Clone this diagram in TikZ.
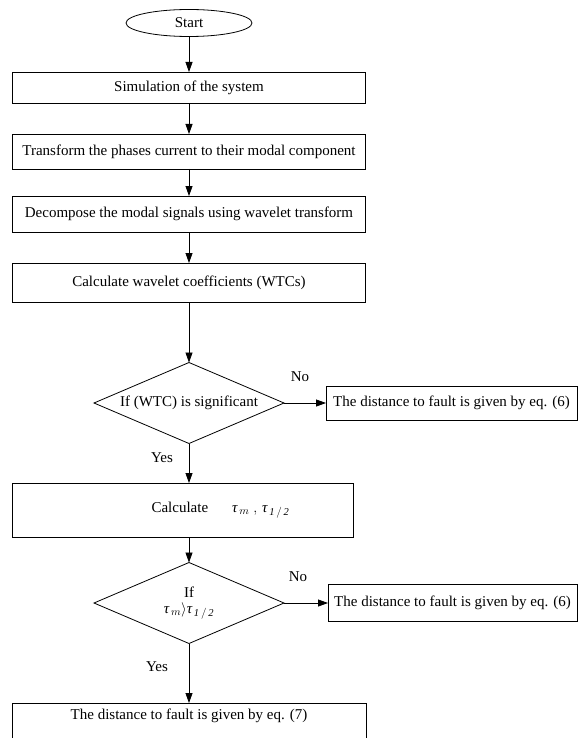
\documentclass[tikz,border=0pt]{standalone}
\usepackage{fontspec}
\setmainfont{Liberation Serif}
\usetikzlibrary{arrows.meta,shapes.geometric}
\newcommand{\mytau}{\textit{τ}}
\begin{document}
\begin{tikzpicture}[x=1pt,y=-1pt,
  font=\fontsize{15}{18}\selectfont,
  every node/.style={inner sep=0pt, outer sep=0pt},
  box/.style={draw, line width=0.8pt, rectangle},
  dec/.style={draw, line width=0.8pt, diamond, shape aspect=2.375, minimum width=190, minimum height=81, align=center},
  arr/.style={-{Triangle[length=10pt,width=7pt]}, line width=0.8pt}]
\useasboundingbox (0,0) rectangle (578,738);
\node[draw, ellipse, line width=0.8pt, minimum width=126, minimum height=27] (start) at (189,23) {Start};
\node[box, minimum width=353, minimum height=31] (b1) at (189,87.5) {Simulation of the system};
\node[box, minimum width=353, minimum height=35] (b2) at (189,151.5) {Transform the phases current to their modal component};
\node[box, minimum width=353, minimum height=36] (b3) at (189,214) {Decompose the modal signals using wavelet transform};
\node[box, minimum width=353, minimum height=39] (b4) at (189,282.5) {Calculate wavelet coefficients (WTCs)};
\node[dec] (d1) at (189,403) {If (WTC) is significant};
\node[box, minimum width=251, minimum height=34] (r1) at (451.5,403) {The distance to fault is given by eq. (6)};
\node[box, minimum width=341, minimum height=54] (b5) at (182.5,510) {\hspace*{76pt}Calculate\hspace{24pt}$\mytau_{\,m}\;,\,\mytau_{\,\mathit{1\,/\,2}}$};
\node[dec] (d2) at (189,603) {If\\[-2pt]$\mytau_{\,m}\rangle\mytau_{\,\mathit{1\,/\,2}}$};
\node[box, minimum width=249, minimum height=37] (r2) at (452.5,603) {The distance to fault is given by eq. (6)};
\node[box, minimum width=354, minimum height=60, anchor=north] (b6) at (189,703) {};
\node (b6t) at (189,716) {The distance to fault is given by eq. (7)};
\node (no1) at (300,377) {No};
\node (no2) at (298,577) {No};
\node (yes1) at (162,458) {Yes};
\node (yes2) at (157,667) {Yes};
\draw[arr] (start.south) -- (b1.north);
\draw[arr] (b1.south) -- (b2.north);
\draw[arr] (b2.south) -- (b3.north);
\draw[arr] (b3.south) -- (b4.north);
\draw[arr] (b4.south) -- (d1.north);
\draw[arr] (d1.east) -- (r1.west);
\draw[arr] (d1.south) -- (d1.south |- b5.north);
\draw[arr] (d1.south |- b5.south) -- (d2.north);
\draw[arr] (d2.east) -- (r2.west);
\draw[arr] (d2.south) -- (b6.north);
\end{tikzpicture}
\end{document}
